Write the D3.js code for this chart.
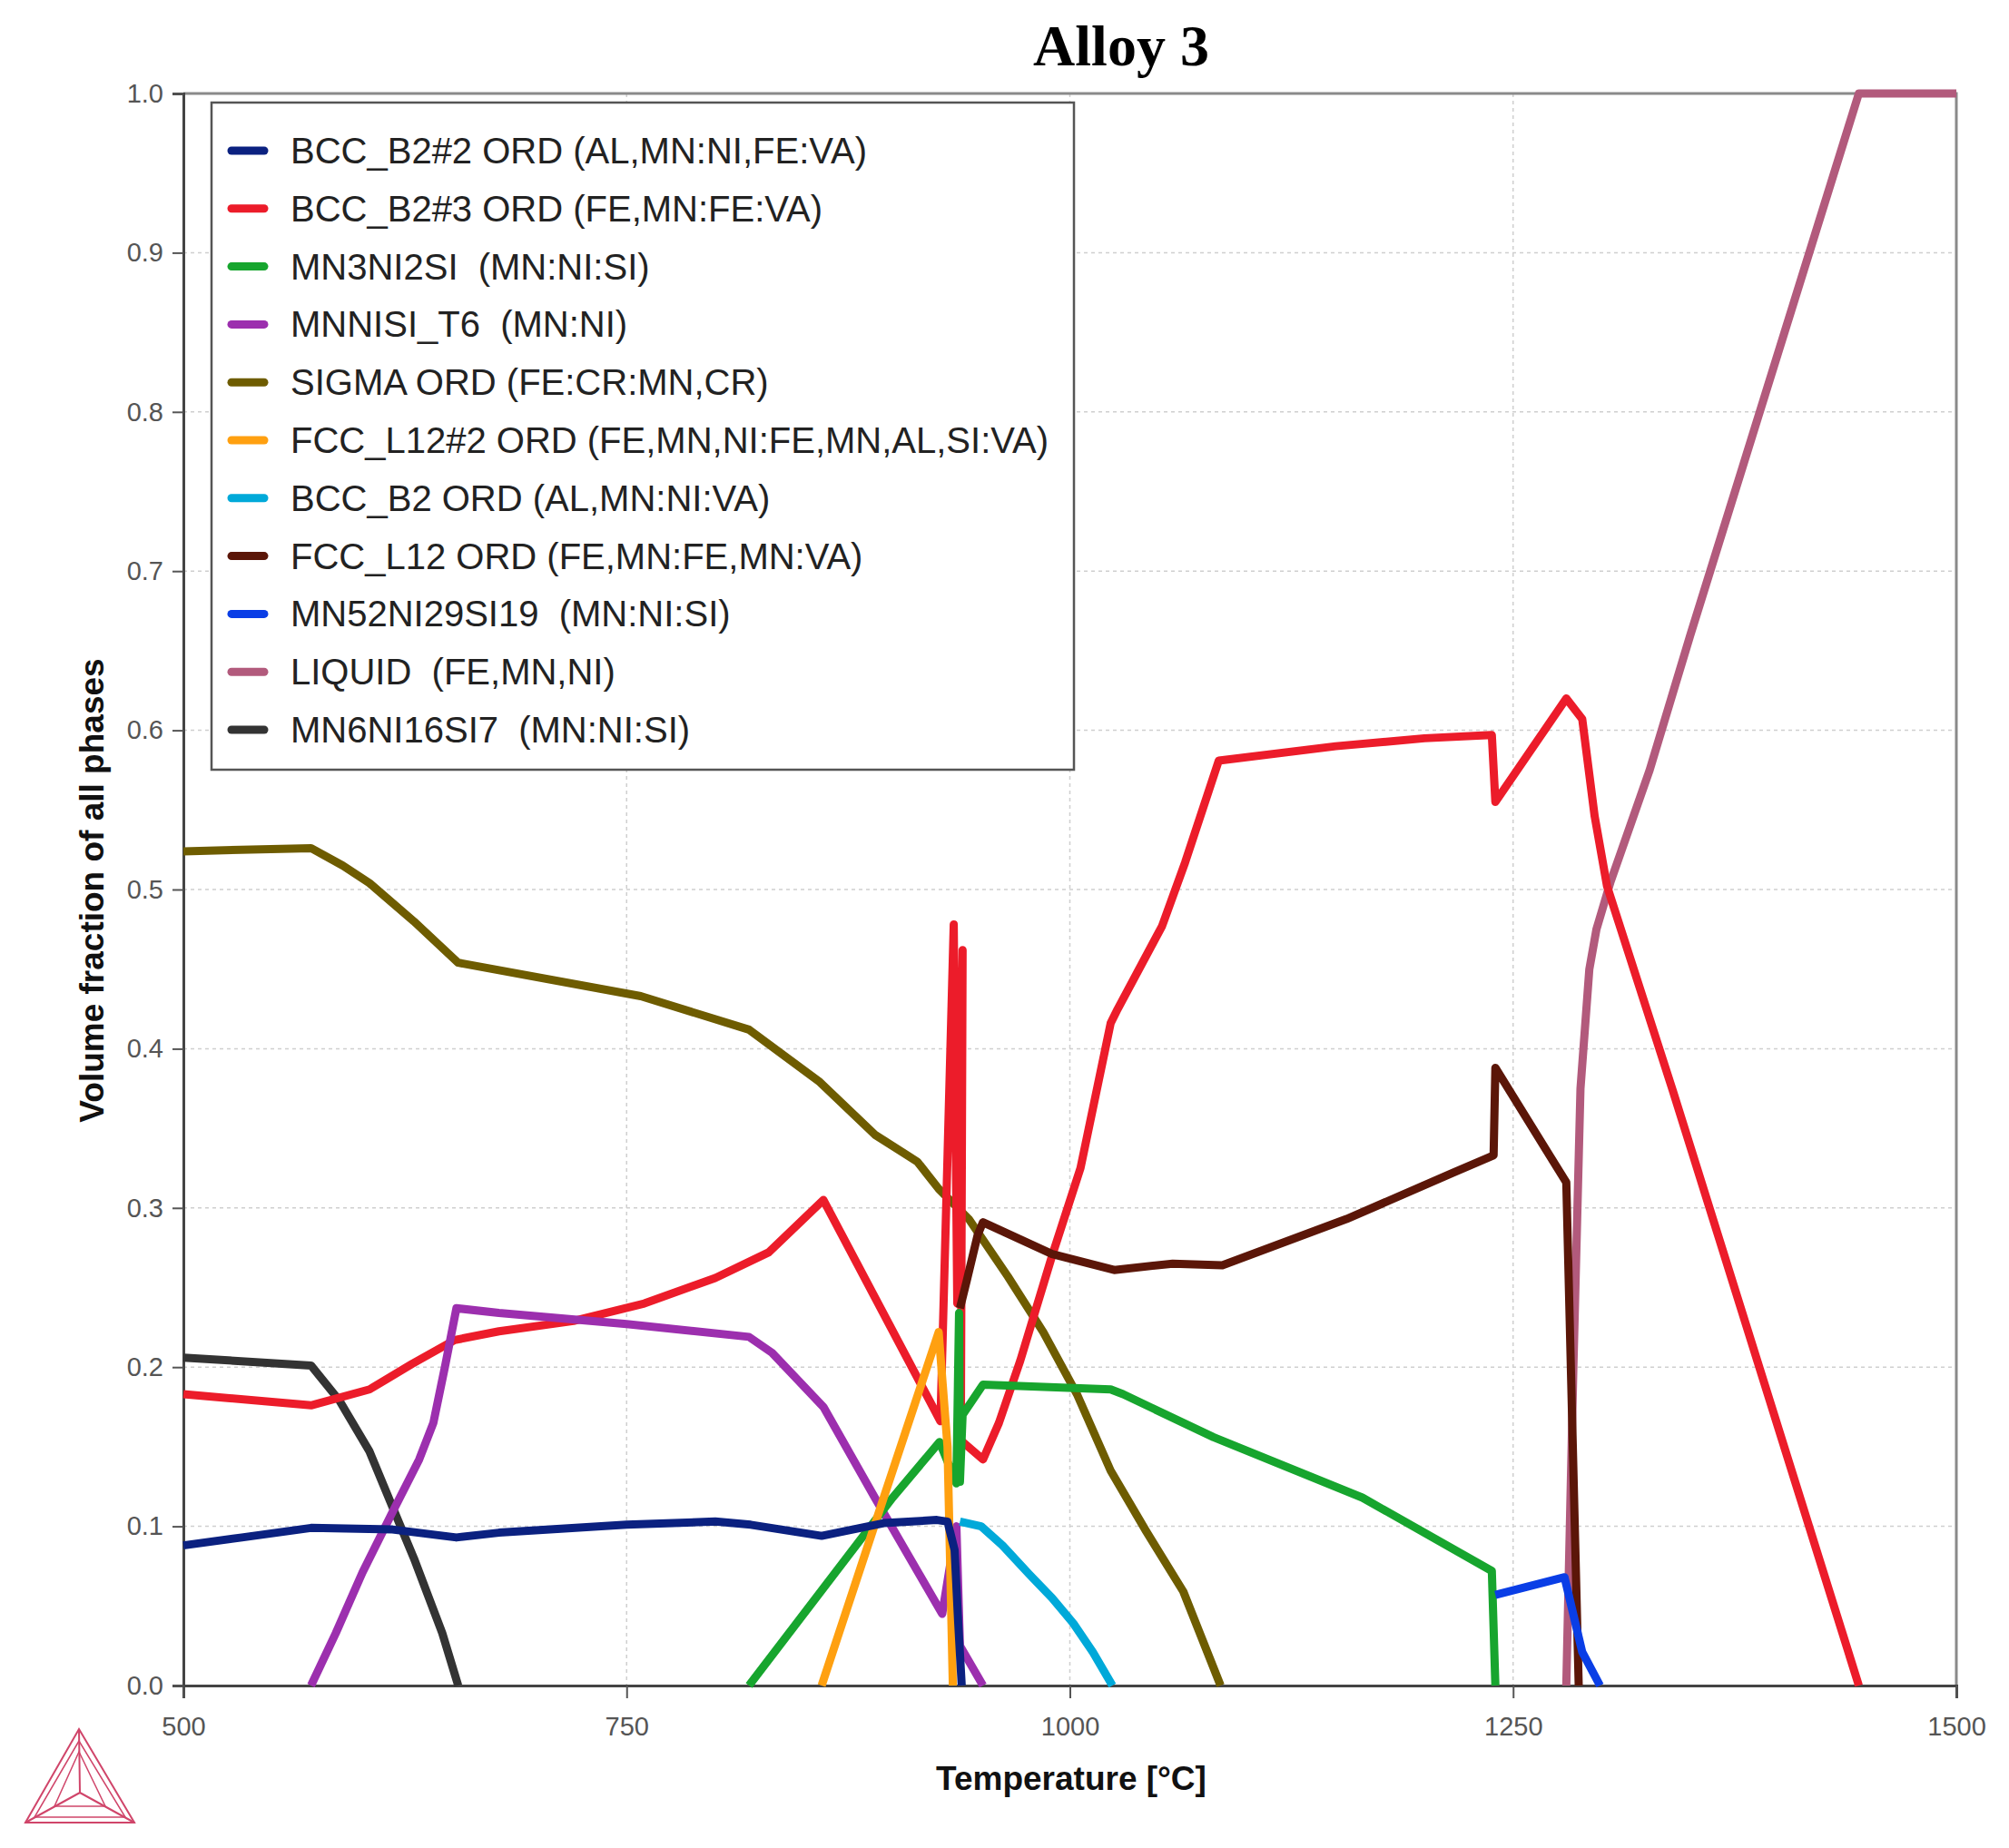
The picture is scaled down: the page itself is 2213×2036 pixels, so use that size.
<!DOCTYPE html>
<html>
<head>
<meta charset="utf-8">
<script src="https://cdn.jsdelivr.net/npm/d3@7"></script>
<style>
  body { margin: 0; background: #fff; }
  text { font-family: Arial, "Liberation Sans", sans-serif; }
</style>
</head>
<body>
<svg id="chart"></svg>
<script>
// phase fraction curves, [temperature, volume fraction]
var bccB2_2 = [[500,0.088],[533,0.093],[572,0.099],[618,0.098],[654,0.093],[678,0.096],[750,0.101],[800,0.103],[820,0.101],[860,0.094],[895,0.102],[925,0.104],[931,0.103],[935,0.085],[937,0.04],[939,0]];
var bccB2_3 = [[500,0.183],[572,0.176],[605,0.186],[629,0.202],[653,0.217],[678,0.2225],[720,0.229],[760,0.24],[800,0.256],[830,0.272],[861,0.305],[927,0.166],[934.5,0.478],[936.5,0.24],[939.5,0.462],[938.5,0.154],[951,0.142],[960,0.165],[972,0.204],[990,0.27],[1006,0.325],[1023,0.416],[1027,0.425],[1052,0.477],[1065,0.517],[1084,0.581],[1150,0.59],[1200,0.595],[1238,0.597],[1240,0.555],[1280,0.62],[1289,0.607],[1296,0.546],[1303,0.502],[1340,0.374],[1445,0]];
var mn3ni2si = [[819,0],[900,0.118],[926.5,0.153],[936,0.127],[937.5,0.234],[938,0.128],[939.5,0.17],[951,0.189],[1023,0.186],[1030,0.183],[1081,0.156],[1165,0.118],[1238,0.072],[1240,0]];
var mnnisiT6 = [[572,0],[586,0.033],[601,0.071],[618,0.109],[633,0.142],[641,0.165],[647.5,0.2],[654,0.237],[678,0.234],[750,0.227],[819,0.219],[832,0.209],[861,0.175],[890,0.118],[928,0.045],[936,0.1],[938,0.025],[951,0]];
var sigma = [[500,0.524],[572,0.526],[590,0.515],[605,0.504],[630,0.48],[655,0.454],[758,0.433],[819,0.412],[859,0.379],[890,0.346],[914,0.329],[926,0.312],[943,0.293],[965,0.257],[985,0.222],[1004,0.183],[1023,0.135],[1043,0.097],[1064,0.059],[1085,0]];
var fccL12_2 = [[860,0],[895,0.118],[926,0.222],[931,0.15],[934,0]];
var bccB2 = [[938,0.103],[950,0.1],[962,0.088],[977,0.07],[990,0.055],[1002,0.039],[1013,0.021],[1024,0]];
var fccL12 = [[938,0.237],[942,0.255],[948,0.283],[951,0.291],[990,0.271],[1025,0.261],[1058,0.265],[1086,0.264],[1156,0.293],[1216,0.322],[1239,0.333],[1240,0.388],[1280,0.316],[1287,0]];
var mn52 = [[1240,0.057],[1279,0.068],[1289,0.021],[1299,0]];
var liquid = [[1280,0],[1284,0.2],[1288,0.375],[1293,0.45],[1297,0.475],[1305,0.505],[1327,0.575],[1350,0.66],[1445,1.0],[1500,1.0]];
var mn6ni16si7 = [[500,0.206],[572,0.201],[588,0.179],[605,0.147],[618,0.112],[630,0.08],[646,0.033],[655,0]];

var legendNames = [
  "BCC_B2#2 ORD (AL,MN:NI,FE:VA)",
  "BCC_B2#3 ORD (FE,MN:FE:VA)",
  "MN3NI2SI  (MN:NI:SI)",
  "MNNISI_T6  (MN:NI)",
  "SIGMA ORD (FE:CR:MN,CR)",
  "FCC_L12#2 ORD (FE,MN,NI:FE,MN,AL,SI:VA)",
  "BCC_B2 ORD (AL,MN:NI:VA)",
  "FCC_L12 ORD (FE,MN:FE,MN:VA)",
  "MN52NI29SI19  (MN:NI:SI)",
  "LIQUID  (FE,MN,NI)",
  "MN6NI16SI7  (MN:NI:SI)"
];
var colors = ["#0b2180", "#ec1c2a", "#17a52e", "#9c2fae", "#6e5c00", "#ffa010",
              "#00a9d9", "#5b1608", "#0a3ee6", "#b25a7c", "#333333"];
var seriesData = [bccB2_2, bccB2_3, mn3ni2si, mnnisiT6, sigma, fccL12_2, bccB2, fccL12, mn52, liquid, mn6ni16si7];
// drawing order, bottom to top
var drawOrder = [10, 9, 4, 1, 3, 2, 5, 6, 7, 8, 0];

var xTicks = [500, 750, 1000, 1250, 1500];
var yTicks = [0, 0.1, 0.2, 0.3, 0.4, 0.5, 0.6, 0.7, 0.8, 0.9, 1.0];

var margin = {top: 103, right: 58, bottom: 179, left: 202},
    width = 2213 - margin.left - margin.right,
    height = 2036 - margin.top - margin.bottom;

var svg = d3.select("#chart")
    .attr("width", 2213)
    .attr("height", 2036);

var g = svg.append("g")
    .attr("transform", "translate(" + margin.left + "," + margin.top + ")");

var x = d3.scaleLinear().domain([500, 1500]).range([0, width]);
var y = d3.scaleLinear().domain([0, 1]).range([height, 0]);

// title
svg.append("text")
    .attr("x", 1235).attr("y", 72)
    .attr("text-anchor", "middle")
    .style("font-family", "'Liberation Serif', 'Times New Roman', serif")
    .style("font-weight", "bold")
    .style("font-size", "64px")
    .text("Alloy 3");

// grid
g.selectAll(".vgrid")
    .data(xTicks.slice(1, -1))
    .join("line")
    .attr("x1", d => x(d)).attr("x2", d => x(d))
    .attr("y1", 0).attr("y2", height)
    .attr("stroke", "#cfcfcf").attr("stroke-width", 1.5)
    .attr("stroke-dasharray", "4,4");
g.selectAll(".hgrid")
    .data(yTicks.slice(1, -1))
    .join("line")
    .attr("y1", d => y(d)).attr("y2", d => y(d))
    .attr("x1", 0).attr("x2", width)
    .attr("stroke", "#cfcfcf").attr("stroke-width", 1.5)
    .attr("stroke-dasharray", "4,4");

// frame (top / right)
g.append("path")
    .attr("d", "M0,0H" + width + "V" + height)
    .attr("fill", "none").attr("stroke", "#8a8a8a").attr("stroke-width", 3);

// axes
var xAxis = g.append("g")
    .attr("transform", "translate(0," + height + ")")
    .call(d3.axisBottom(x).tickValues(xTicks).tickSize(14).tickPadding(20).tickFormat(d3.format("d")));
var yAxis = g.append("g")
    .call(d3.axisLeft(y).tickValues(yTicks).tickSize(12).tickPadding(10).tickFormat(d3.format(".1f")));
[xAxis, yAxis].forEach(function(a) {
    a.select(".domain").attr("stroke", "#444").attr("stroke-width", 3);
    a.selectAll(".tick line").attr("stroke", "#555").attr("stroke-width", 2);
    a.selectAll(".tick text")
        .attr("fill", "#555")
        .style("font-size", "29px")
        .style("font-family", "Arial, 'Liberation Sans', sans-serif");
});

// axis titles
svg.append("text")
    .attr("x", 1180).attr("y", 1972)
    .attr("text-anchor", "middle")
    .style("font-weight", "bold").style("font-size", "37px")
    .attr("fill", "#111")
    .text("Temperature [°C]");
svg.append("text")
    .attr("transform", "translate(114,981) rotate(-90)")
    .attr("text-anchor", "middle")
    .style("font-weight", "bold").style("font-size", "37px")
    .attr("fill", "#111")
    .text("Volume fraction of all phases");

// curves
var line = d3.line()
    .x(d => x(d[0]))
    .y(d => y(d[1]));

g.append("g")
    .selectAll("path")
    .data(drawOrder)
    .join("path")
    .attr("d", i => line(seriesData[i]))
    .attr("fill", "none")
    .attr("stroke", i => colors[i])
    .attr("stroke-width", 9)
    .attr("stroke-linejoin", "round");

// legend
var legend = svg.append("g").attr("transform", "translate(233,113)");
legend.append("rect")
    .attr("width", 950).attr("height", 735)
    .attr("fill", "#fff")
    .attr("stroke", "#555").attr("stroke-width", 2.5);
var item = legend.selectAll(".item")
    .data(legendNames)
    .join("g")
    .attr("transform", (d, i) => "translate(0," + (53 + i * 63.8) + ")");
item.append("line")
    .attr("x1", 22).attr("x2", 58)
    .attr("stroke", (d, i) => colors[i])
    .attr("stroke-width", 9)
    .attr("stroke-linecap", "round");
item.append("text")
    .attr("x", 87).attr("y", 14)
    .attr("xml:space", "preserve")
    .style("white-space", "pre")
    .style("font-size", "40px")
    .attr("fill", "#222")
    .text(d => d);

// Thermo-Calc logo, bottom left
var logo = svg.append("g")
    .attr("fill", "none")
    .attr("stroke", "#d0456a")
    .attr("stroke-width", 2);
logo.append("path").attr("d", "M87,1905L28,2008H148Z");
logo.append("path").attr("d", "M87,1918L38,2002H138Z").attr("stroke-width", 1.5);
logo.append("path").attr("d", "M87,1905L88,1975M28,2008L88,1975M148,2008L88,1975");
logo.append("path").attr("d", "M87,1930L60,1990H116Z").attr("stroke-width", 1.5);
</script>
</body>
</html>
